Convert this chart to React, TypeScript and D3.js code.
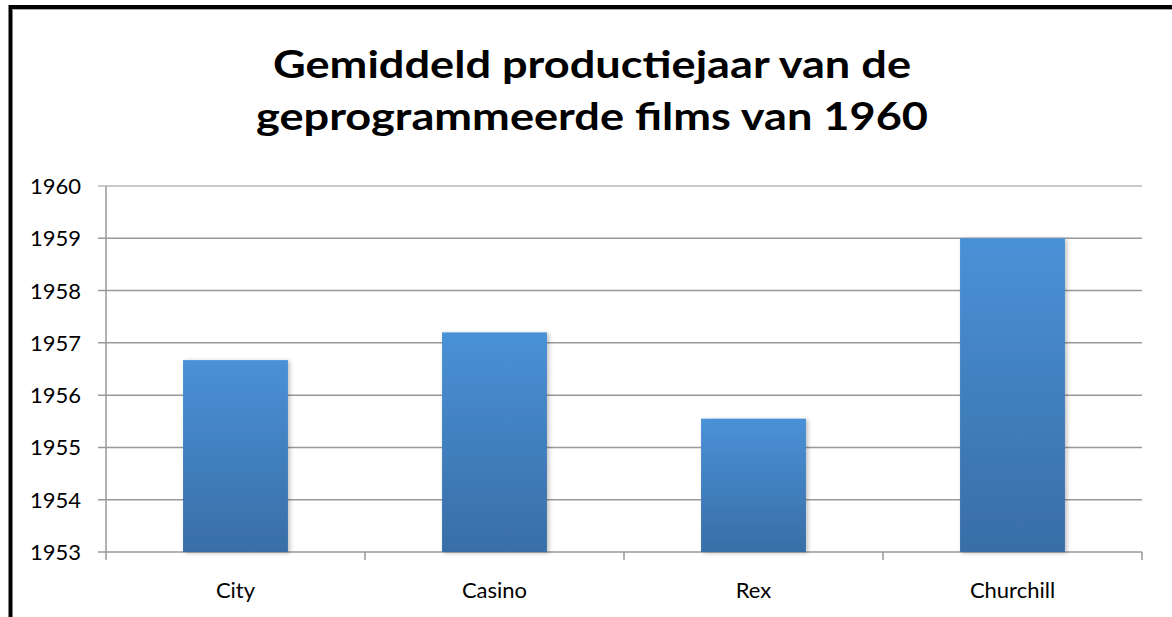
import React from "react";
import * as d3 from "d3";

const categories = ["City", "Casino", "Rex", "Churchill"];
const values = [1956.67, 1957.2, 1955.55, 1959.0];
const yTicks = [1953, 1954, 1955, 1956, 1957, 1958, 1959, 1960];
const titleLines = ["Gemiddeld productiejaar van de", "geprogrammeerde films van 1960"];

const W = 1172;
const H = 617;
const left = 106;
const right = 1142;
const top = 186;
const bottom = 552;

export default function App() {
  const x = d3.scaleBand<string>().domain(categories).range([left, right]).paddingInner(0.595).paddingOuter(0.2975);
  const y = d3.scaleLinear().domain([1953, 1960]).range([bottom, top]);
  const step = x.step();
  const font = "Lato, 'Open Sans', sans-serif";
  return (
    <svg width={W} height={H} style={{ position: "absolute", left: 0, top: 0, background: "#fff" }}>
      <defs>
        <linearGradient id="barGrad" x1="0" y1="0" x2="0" y2="1">
          <stop offset="0" stopColor="#4a91d7" />
          <stop offset="1" stopColor="#386ea6" />
        </linearGradient>
        <filter id="shadow" x="-10%" y="-10%" width="130%" height="130%">
          <feDropShadow dx="2" dy="1" stdDeviation="2" floodColor="#000" floodOpacity="0.25" />
        </filter>
      </defs>
      <rect x={10.5} y={7} width={1200} height={700} fill="none" stroke="#000" strokeWidth={4} />
      <line x1={12} x2={W} y1={9.5} y2={9.5} stroke="#aaa" strokeWidth={1} />
      {titleLines.map((t, i) => (
        <text key={i} x={592} y={78 + i * 52} textAnchor="middle" fontFamily={font} fontWeight={700} fontSize={38}
          textLength={i === 0 ? 638 : 672} lengthAdjust="spacingAndGlyphs" fill="#000">{t}</text>
      ))}
      {yTicks.map((v) => (
        <g key={v}>
          <line x1={98} x2={right} y1={y(v)} y2={y(v)} stroke={v === 1960 ? "#b8b8b8" : "#999"} strokeWidth={1.5} />
          <text x={81} y={y(v) + 8} textAnchor="end" fontFamily={font} fontSize={22} fill="#000">{v}</text>
        </g>
      ))}
      <line x1={left} x2={left} y1={top} y2={bottom + 8} stroke="#999" strokeWidth={1.5} />
      {categories.map((c, i) => (
        <line key={"t" + i} x1={left + step * (i + 1)} x2={left + step * (i + 1)} y1={bottom} y2={bottom + 8} stroke="#999" strokeWidth={1.5} />
      ))}
      {categories.map((c, i) => (
        <rect key={c} x={x(c)} y={y(values[i])} width={x.bandwidth()} height={bottom - y(values[i])} fill="url(#barGrad)" filter="url(#shadow)" />
      ))}
      {categories.map((c) => (
        <text key={"l" + c} x={(x(c) as number) + x.bandwidth() / 2} y={598} textAnchor="middle" fontFamily={font} fontSize={22} fill="#000">{c}</text>
      ))}
    </svg>
  );
}
